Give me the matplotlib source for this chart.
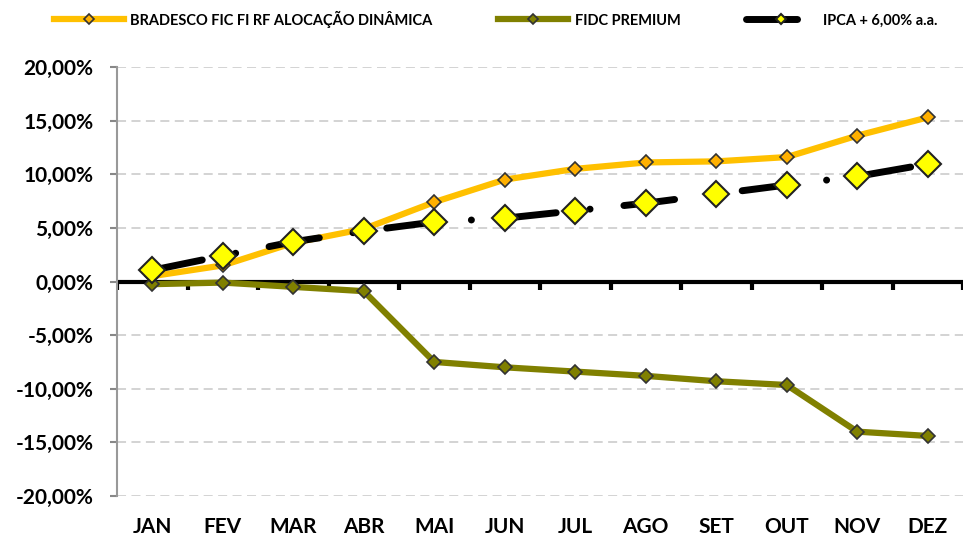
import matplotlib.pyplot as plt
import numpy as np

meses = ['JAN', 'FEV', 'MAR', 'ABR', 'MAI', 'JUN', 'JUL', 'AGO', 'SET', 'OUT', 'NOV', 'DEZ']

bradesco = [0.5, 1.5, 3.6, 4.9, 7.4, 9.5, 10.5, 11.1, 11.2, 11.6, 13.6, 15.3]
fidc = [-0.25, -0.1, -0.5, -0.9, -7.5, -8.0, -8.4, -8.8, -9.3, -9.65, -14.0, -14.4]
ipca = [1.05, 2.4, 3.7, 4.7, 5.55, 5.9, 6.6, 7.3, 8.15, 9.0, 9.8, 10.95]

yticks = [-20, -15, -10, -5, 0, 5, 10, 15, 20]

plt.rcParams['font.family'] = ['Lato', 'DejaVu Sans']
plt.rcParams['font.weight'] = 'bold'

fig = plt.figure(figsize=(9.64, 5.42), dpi=100)
ax = fig.add_axes([117 / 964, 1 - 496 / 542, (963 - 117) / 964, (496 - 67) / 542])

x = np.arange(len(meses))

# grade horizontal tracejada
for v in yticks:
    if v != 0:
        ax.axhline(v, color='#d0d0d0', lw=1.3, ls=(0, (5, 3)), zorder=0)

# linha do zero com marcas entre as categorias
ax.axhline(0, color='black', lw=3, zorder=2)
ax.vlines(np.arange(-0.5, len(meses)), -0.8, 0, color='black', lw=3, zorder=2)

ax.plot(x, bradesco, color='#FFC000', lw=4.5, marker='D', ms=7, mfc='#FFB000',
        mec='#333333', mew=1.2, zorder=3, label='BRADESCO FIC FI RF ALOCAÇÃO DINÂMICA')
ax.plot(x, fidc, color='#808000', lw=4.5, marker='D', ms=7, mfc='#808000',
        mec='#333333', mew=1.2, zorder=3, label='FIDC PREMIUM')
l, = ax.plot(x, ipca, color='black', lw=5, marker='D', ms=13, mfc='#FFFF00',
             mec='#222222', mew=1.5, zorder=4, label='IPCA + 6,00% a.a.',
             dash_capstyle='round', solid_capstyle='round')
l.set_dashes((7.35, 4.9, 0.01, 4.9))

ax.set_xlim(-0.5, len(meses) - 0.5)
ax.set_ylim(-20, 20)
ax.set_yticks(yticks)
ax.set_yticklabels(['{:,.2f}%'.format(v).replace('.', ',') for v in yticks], fontsize=15, fontweight='bold')
ax.set_xticks(x)
ax.set_xticklabels(meses, fontsize=15, fontweight='bold')
ax.tick_params(axis='x', length=0, pad=15)
ax.tick_params(axis='y', length=5, color='#888888', width=1.5, pad=12)

for s in ['top', 'right', 'bottom']:
    ax.spines[s].set_visible(False)
ax.spines['left'].set_color('#999999')
ax.spines['left'].set_linewidth(1.5)

leg = fig.legend(loc='center', bbox_to_anchor=(0.514, 1 - 19 / 542), ncol=3, frameon=False,
                 prop={'size': 10.5, 'weight': 'bold'}, handlelength=4.8, columnspacing=4.5,
                 handletextpad=0.45)
for h in leg.legend_handles:
    h.set_markersize(5)

plt.savefig('out.png', dpi=100)
